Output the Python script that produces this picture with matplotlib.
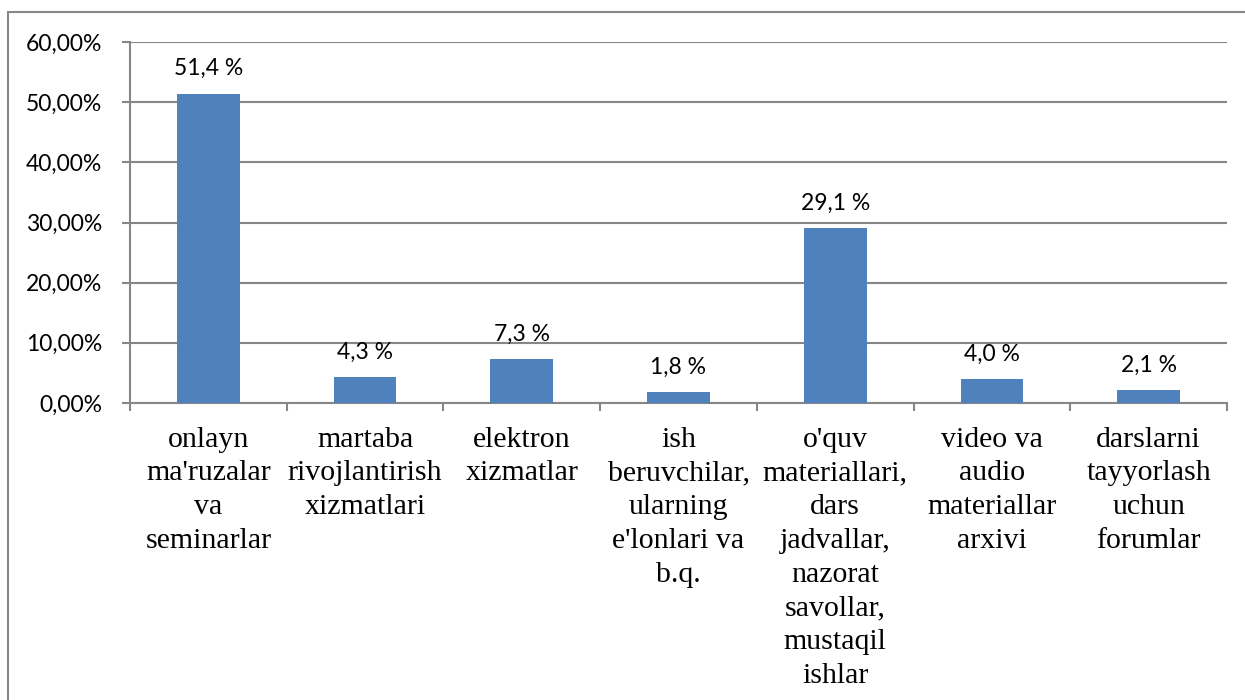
import matplotlib
matplotlib.use("Agg")
import matplotlib.pyplot as plt
from matplotlib.patches import Rectangle

categories = [
    "onlayn\nma'ruzalar\nva\nseminarlar",
    "martaba\nrivojlantirish\nxizmatlari",
    "elektron\nxizmatlar",
    "ish\nberuvchilar,\nularning\ne'lonlari va\nb.q.",
    "o'quv\nmateriallari,\ndars\njadvallar,\nnazorat\nsavollar,\nmustaqil\nishlar",
    "video va\naudio\nmateriallar\narxivi",
    "darslarni\ntayyorlash\nuchun\nforumlar",
]
values = [51.4, 4.3, 7.3, 1.8, 29.1, 4.0, 2.1]
value_labels = ["51,4 %", "4,3 %", "7,3 %", "1,8 %", "29,1 %", "4,0 %", "2,1 %"]
yticks = [0, 10, 20, 30, 40, 50, 60]
ytick_labels = ["0,00%", "10,00%", "20,00%", "30,00%", "40,00%", "50,00%", "60,00%"]

W, H = 1245, 700
fig = plt.figure(figsize=(W / 100, H / 100), dpi=100)
ax = fig.add_axes([130 / W, 1 - 403 / H, (1227 - 130) / W, (403 - 42) / H])

grid_c = "#868686"
bar_c = "#4F81BD"
num_font = "Lato"
num_size = 16.5

x = list(range(len(values)))
ax.bar(x, values, width=0.4, color=bar_c, zorder=3)
ax.set_xlim(-0.5, len(values) - 0.5)
ax.set_ylim(0, 60)
ax.set_yticks(yticks)
ax.set_yticklabels(ytick_labels, fontsize=num_size, family=num_font, color="#000000")
ax.yaxis.grid(True, color=grid_c, linewidth=1.5, zorder=0)
ax.set_axisbelow(True)

ax.set_xticks([i + 0.5 for i in range(-1, len(values))], minor=False)
ax.set_xticklabels([""] * (len(values) + 1))
ax.set_xticks(x, minor=True)
ax.set_xticklabels(categories, minor=True, family="Liberation Serif", fontsize=21.5,
                   linespacing=1.39, ha="center", va="top")
ax.tick_params(axis="x", which="major", length=6, width=1.5, color=grid_c)
ax.tick_params(axis="x", which="minor", length=0, pad=17)
ax.tick_params(axis="y", length=6, width=1.5, color=grid_c, pad=14)

for s in ["top", "right"]:
    ax.spines[s].set_visible(False)
for s in ["left", "bottom"]:
    ax.spines[s].set_color(grid_c)
    ax.spines[s].set_linewidth(1.5)

for xi, v, lab in zip(x, values, value_labels):
    ax.annotate(lab, (xi, v), xytext=(0, 18), textcoords="offset points",
                ha="center", va="center", fontsize=num_size, family=num_font)

fig.patches.append(Rectangle((8 / W, -0.1), 1.2, 1 - 12 / H + 0.1,
                             transform=fig.transFigure, fill=False,
                             edgecolor=grid_c, linewidth=1.5))

fig.savefig("out.png", dpi=100)
